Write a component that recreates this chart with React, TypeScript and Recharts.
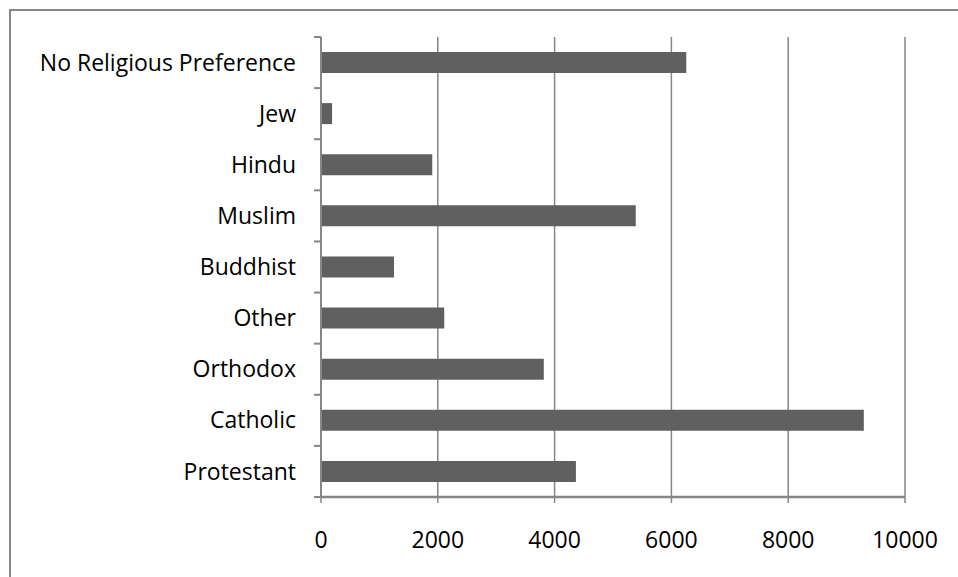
import { BarChart, Bar, XAxis, YAxis, CartesianGrid } from 'recharts';

const categories = [
  'No Religious Preference',
  'Jew',
  'Hindu',
  'Muslim',
  'Buddhist',
  'Other',
  'Orthodox',
  'Catholic',
  'Protestant',
];

const counts = [6255, 190, 1905, 5390, 1250, 2110, 3815, 9295, 4365];

const xTicks = [0, 2000, 4000, 6000, 8000, 10000];

const data = categories.map((name, i) => ({ name, count: counts[i] }));

const AXIS = '#868686';
const FONT = '"Open Sans", Lato, sans-serif';
const PLOT_HEIGHT = 460;

function CategoryTick(props: any) {
  const { x, y, payload, index, visibleTicksCount } = props;
  const half = PLOT_HEIGHT / categories.length / 2;
  const x1 = x + 18;
  const x2 = x1 + 7;
  return (
    <g>
      <line x1={x1} x2={x2} y1={y - half} y2={y - half} stroke={AXIS} strokeWidth={2} />
      {index === visibleTicksCount - 1 && (
        <line x1={x1} x2={x2} y1={y + half} y2={y + half} stroke={AXIS} strokeWidth={2} />
      )}
      <text x={x} y={y} dy="0.355em" textAnchor="end" fill="#000" fontSize={23} fontFamily={FONT}>
        {payload.value}
      </text>
    </g>
  );
}

export default function App() {
  return (
    <div style={{ position: 'absolute', left: 0, top: 0, width: 958, height: 577, overflow: 'hidden', background: '#fff' }}>
      <div
        style={{
          position: 'absolute',
          left: 9,
          top: 9,
          width: 1000,
          height: 700,
          borderTop: `2px solid ${AXIS}`,
          borderLeft: `2px solid ${AXIS}`,
        }}
      />
      <div style={{ position: 'absolute', left: 0, top: 0 }}>
        <BarChart
          width={958}
          height={577}
          data={data}
          layout="vertical"
          margin={{ top: 37, right: 53, bottom: 0, left: 0 }}
          barSize={21}
        >
          <CartesianGrid horizontal={false} stroke={AXIS} strokeWidth={1.5} />
          <XAxis
            type="number"
            domain={[0, 10000]}
            ticks={xTicks}
            height={80}
            axisLine={{ stroke: AXIS, strokeWidth: 2.5 }}
            tickLine={{ stroke: AXIS, strokeWidth: 1.5 }}
            tickSize={6}
            tickMargin={29}
            tick={{ fill: '#000', fontSize: 23, fontFamily: FONT }}
            interval={0}
          />
          <YAxis
            type="category"
            dataKey="name"
            width={321}
            axisLine={{ stroke: AXIS, strokeWidth: 2 }}
            tickLine={false}
            tickSize={7}
            tickMargin={18}
            tick={<CategoryTick />}
            interval={0}
          />
          <Bar dataKey="count" fill="#606060" isAnimationActive={false} />
        </BarChart>
      </div>
    </div>
  );
}
